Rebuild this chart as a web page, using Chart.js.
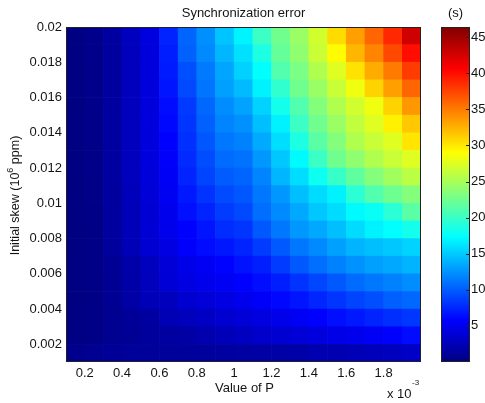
<!DOCTYPE html>
<html>
<head>
<meta charset="utf-8">
<script src="https://cdn.jsdelivr.net/npm/chart.js@4/dist/chart.umd.min.js"></script>
<style>
  html, body { margin: 0; padding: 0; background: #fff; }
  #wrap { position: relative; width: 485px; height: 403px; }
  #wrap canvas { position: absolute; left: 0; top: 0; }
</style>
</head>
<body>
<div id="wrap">
  <canvas id="heat" width="485" height="403"></canvas>
  <canvas id="cbar" width="485" height="403"></canvas>
</div>
<script>
// cell edges: P (x 10^-3) along x, initial skew along y
var pEdges = [0.1, 0.2, 0.3, 0.4, 0.5, 0.6, 0.7, 0.8, 0.9, 1.0, 1.1, 1.2, 1.3, 1.4, 1.5, 1.6, 1.7, 1.8, 1.9, 2.0];
var skewEdges = [0.001, 0.002, 0.003, 0.004, 0.005, 0.006, 0.007, 0.008, 0.009, 0.010,
                 0.011, 0.012, 0.013, 0.014, 0.015, 0.016, 0.017, 0.018, 0.019, 0.020];

// synchronization error (s), one array per skew row, bottom to top
var err01 = [0.6, 0.9, 1.1, 1.2, 1.2, 1.2, 1.3, 1.3, 1.5, 1.6, 1.7, 1.8, 1.9, 2.2, 2.3, 2.5, 2.7, 2.9, 3.2];
var err02 = [0.2, 0.3, 0.8, 1.0, 1.3, 1.5, 1.7, 2.1, 2.6, 3.0, 3.4, 3.7, 4.0, 4.3, 4.7, 5.0, 5.3, 5.7, 6.3];
var err03 = [0.1, 0.3, 0.8, 1.1, 1.5, 2.4, 2.8, 3.1, 3.7, 4.0, 4.4, 4.9, 5.3, 5.8, 6.4, 6.9, 7.4, 7.9, 8.3];
var err04 = [0.1, 0.3, 0.9, 1.7, 2.6, 2.8, 3.7, 4.0, 4.5, 5.0, 5.5, 6.1, 6.7, 7.5, 8.2, 8.9, 9.4, 10.1, 10.5];
var err05 = [0.1, 0.3, 0.9, 1.8, 2.8, 3.9, 4.5, 5.0, 5.3, 5.8, 6.4, 7.1, 8.1, 9.0, 9.8, 10.7, 11.2, 11.7, 12.2];
var err06 = [0.1, 0.3, 1.0, 1.9, 2.9, 4.0, 4.8, 5.3, 5.9, 6.6, 7.2, 8.5, 9.8, 10.8, 11.7, 12.5, 13.1, 13.5, 14.0];
var err07 = [0.1, 0.3, 1.3, 2.5, 3.8, 4.5, 5.6, 6.3, 6.8, 7.4, 8.5, 9.8, 11.2, 12.1, 13.1, 14.0, 14.5, 14.9, 15.4];
var err08 = [0.1, 0.3, 1.4, 2.6, 3.9, 5.0, 5.8, 6.7, 7.8, 8.2, 9.8, 11.2, 12.7, 13.5, 14.5, 15.8, 16.8, 17.4, 18.3];
var err09 = [0.1, 0.3, 1.4, 2.6, 3.9, 5.0, 6.5, 7.4, 8.5, 9.1, 10.8, 12.1, 13.5, 14.9, 15.8, 17.2, 17.8, 19.3, 21.5];
var err10 = [0.1, 0.4, 1.4, 2.7, 4.0, 5.2, 6.9, 8.1, 9.2, 9.7, 11.2, 12.7, 14.5, 15.8, 16.8, 19.3, 21.1, 22.4, 23.4];
var err11 = [0.1, 0.4, 1.5, 2.8, 4.1, 5.4, 7.4, 8.9, 10.0, 10.4, 11.8, 14.1, 15.9, 18.0, 19.9, 21.7, 23.4, 24.7, 25.9];
var err12 = [0.1, 0.4, 1.5, 2.8, 4.2, 5.6, 7.7, 9.3, 10.7, 11.0, 12.7, 14.9, 17.2, 20.1, 22.5, 23.9, 25.4, 26.5, 27.5];
var err13 = [0.1, 0.4, 1.5, 2.8, 4.2, 5.8, 8.0, 9.7, 11.2, 11.7, 13.6, 15.9, 18.7, 21.5, 23.4, 25.4, 26.5, 27.5, 30.2];
var err14 = [0.1, 0.4, 1.5, 2.8, 4.2, 6.1, 8.2, 10.2, 11.8, 12.4, 14.5, 16.8, 20.1, 22.5, 24.4, 26.2, 27.5, 29.6, 31.5];
var err15 = [0.1, 0.5, 1.5, 2.8, 4.2, 6.3, 8.4, 10.5, 12.2, 13.2, 15.4, 18.3, 21.1, 23.4, 25.4, 26.9, 28.3, 31.0, 33.7];
var err16 = [0.1, 0.5, 1.4, 2.8, 4.2, 6.7, 9.1, 11.1, 13.1, 14.3, 16.8, 19.6, 22.5, 24.4, 26.5, 28.3, 31.0, 33.3, 36.0];
var err17 = [0.1, 0.5, 1.4, 2.8, 4.2, 7.0, 9.4, 11.4, 13.3, 15.3, 17.4, 21.1, 23.0, 25.4, 27.5, 30.3, 32.8, 35.0, 37.9];
var err18 = [0.1, 0.5, 1.4, 2.8, 4.2, 7.1, 10.2, 12.1, 14.1, 16.0, 18.7, 22.0, 23.9, 26.6, 29.2, 32.3, 34.6, 37.3, 40.0];
var err19 = [0.1, 0.6, 1.5, 2.9, 4.3, 7.4, 10.4, 12.3, 14.7, 16.9, 20.1, 22.5, 24.4, 26.9, 30.6, 33.3, 36.0, 38.8, 42.8];
var errRows = [err01, err02, err03, err04, err05, err06, err07, err08, err09, err10,
               err11, err12, err13, err14, err15, err16, err17, err18, err19];

var xTicks = [0.2, 0.4, 0.6, 0.8, 1.0, 1.2, 1.4, 1.6, 1.8];
var yTicks = [0.002, 0.004, 0.006, 0.008, 0.010, 0.012, 0.014, 0.016, 0.018, 0.020];
var cbTicks = [5, 10, 15, 20, 25, 30, 35, 40, 45];
var cbMin = 0, cbMax = 46.4;

var FONT = '"Liberation Sans", Arial, sans-serif';
var INK = '#141414';

function clamp01(v) { return Math.max(0, Math.min(1, v)); }

// MATLAB style jet colour map
function jetRGB(t) {
  t = clamp01(t);
  var r = clamp01(Math.min(4 * t - 1.5, -4 * t + 4.5));
  var g = clamp01(Math.min(4 * t - 0.5, -4 * t + 3.5));
  var b = clamp01(Math.min(4 * t + 0.5, -4 * t + 2.5));
  return 'rgb(' + Math.round(r * 255) + ',' + Math.round(g * 255) + ',' + Math.round(b * 255) + ')';
}
function jet(v) { return jetRGB((v - cbMin) / (cbMax - cbMin)); }

// one floating-bar dataset per skew row
var datasets = errRows.map(function (row, i) {
  return {
    data: row.map(function (v, j) {
      return { x: (pEdges[j] + pEdges[j + 1]) / 2, y: [skewEdges[i], skewEdges[i + 1]] };
    }),
    backgroundColor: row.map(jet),
    borderWidth: 0,
    grouped: false,
    categoryPercentage: 1,
    barPercentage: 1
  };
});

function setTicks(list) {
  return function (scale) { scale.ticks = list.map(function (v) { return { value: v }; }); };
}

var heatText = {
  id: 'heatText',
  afterDraw: function (chart) {
    var ctx = chart.ctx, a = chart.chartArea;
    ctx.save();
    ctx.strokeStyle = '#222';
    ctx.lineWidth = 1;
    ctx.strokeRect(a.left + 0.5, a.top + 0.5, a.right - a.left - 1, a.bottom - a.top - 1);

    ctx.fillStyle = INK;
    ctx.textBaseline = 'middle';
    ctx.textAlign = 'center';
    ctx.font = '13px ' + FONT;
    var cx = (a.left + a.right) / 2;
    ctx.fillText('Synchronization error', cx, 13);
    ctx.fillText('Value of P', cx + 1, 388);

    // x 10^-3 multiplier
    ctx.textAlign = 'left';
    ctx.fillText('x 10', 387, 394);
    ctx.font = '8px ' + FONT;
    ctx.fillText('-3', 412, 383);

    // rotated y title with superscript
    var p1 = 'Initial skew (10', p2 = '6', p3 = ' ppm)';
    ctx.font = '12.5px ' + FONT;
    var w1 = ctx.measureText(p1).width, w3 = ctx.measureText(p3).width;
    ctx.font = '9px ' + FONT;
    var w2 = ctx.measureText(p2).width;
    var total = w1 + w2 + w3;
    ctx.translate(16, (a.top + a.bottom) / 2 + 1);
    ctx.rotate(-Math.PI / 2);
    var sx = -total / 2;
    ctx.font = '12.5px ' + FONT;
    ctx.fillText(p1, sx, 0);
    ctx.font = '9px ' + FONT;
    ctx.fillText(p2, sx + w1, -5);
    ctx.font = '12.5px ' + FONT;
    ctx.fillText(p3, sx + w1 + w2, 0);
    ctx.restore();
  }
};

new Chart(document.getElementById('heat'), {
  type: 'bar',
  data: { datasets: datasets },
  options: {
    responsive: false,
    animation: false,
    events: [],
    layout: { padding: { top: 27, right: 64, bottom: 0, left: 0 } },
    plugins: { legend: { display: false }, tooltip: { enabled: false }, title: { display: false } },
    scales: {
      x: {
        type: 'linear',
        min: pEdges[0],
        max: pEdges[pEdges.length - 1],
        offset: false,
        grid: { display: false, drawTicks: false, offset: false },
        border: { display: false },
        afterBuildTicks: setTicks(xTicks),
        afterFit: function (s) { s.height = 41; },
        ticks: {
          padding: 4,
          color: INK,
          font: { family: FONT, size: 13 },
          maxRotation: 0,
          autoSkip: false,
          callback: function (v) { return String(Math.round(v * 10) / 10); }
        }
      },
      y: {
        type: 'linear',
        min: skewEdges[0],
        max: skewEdges[skewEdges.length - 1],
        grid: { display: false, drawTicks: false },
        border: { display: false },
        afterBuildTicks: setTicks(yTicks),
        afterFit: function (s) { s.width = 66; },
        ticks: {
          padding: 4,
          color: INK,
          font: { family: FONT, size: 13 },
          autoSkip: false,
          callback: function (v) { return String(+v.toFixed(3)); }
        }
      }
    }
  },
  plugins: [heatText]
});

// colour bar
var cbText = {
  id: 'cbText',
  afterDraw: function (chart) {
    var ctx = chart.ctx, a = chart.chartArea, y = chart.scales.y;
    ctx.save();
    ctx.strokeStyle = '#222';
    ctx.lineWidth = 1;
    ctx.strokeRect(a.left + 0.5, a.top + 0.5, a.right - a.left - 1, a.bottom - a.top - 1);
    cbTicks.forEach(function (v) {
      var py = Math.round(y.getPixelForValue(v)) + 0.5;
      ctx.beginPath();
      ctx.moveTo(a.right - 4, py);
      ctx.lineTo(a.right, py);
      ctx.stroke();
    });
    ctx.fillStyle = INK;
    ctx.font = '13px ' + FONT;
    ctx.textAlign = 'center';
    ctx.textBaseline = 'middle';
    ctx.fillText('(s)', (a.left + a.right) / 2, 13);
    ctx.restore();
  }
};

new Chart(document.getElementById('cbar'), {
  type: 'bar',
  data: {
    labels: ['s'],
    datasets: [{
      data: [[cbMin, cbMax]],
      borderWidth: 0,
      categoryPercentage: 1,
      barPercentage: 1,
      backgroundColor: function (c) {
        var a = c.chart.chartArea;
        if (!a) return 'rgba(0,0,0,0)';
        var g = c.chart.ctx.createLinearGradient(0, a.bottom, 0, a.top);
        [0, 0.125, 0.375, 0.625, 0.875, 1].forEach(function (s) { g.addColorStop(s, jetRGB(s)); });
        return g;
      }
    }]
  },
  options: {
    responsive: false,
    animation: false,
    events: [],
    layout: { padding: { top: 27, right: 0, bottom: 41, left: 441 } },
    plugins: { legend: { display: false }, tooltip: { enabled: false } },
    scales: {
      x: { display: false },
      y: {
        position: 'right',
        min: cbMin,
        max: cbMax,
        grid: { display: false, drawTicks: false },
        border: { display: false },
        afterBuildTicks: setTicks(cbTicks),
        afterFit: function (s) { s.width = 15; },
        ticks: {
          padding: 1,
          color: INK,
          font: { family: FONT, size: 13 },
          autoSkip: false
        }
      }
    }
  },
  plugins: [cbText]
});
</script>
</body>
</html>
